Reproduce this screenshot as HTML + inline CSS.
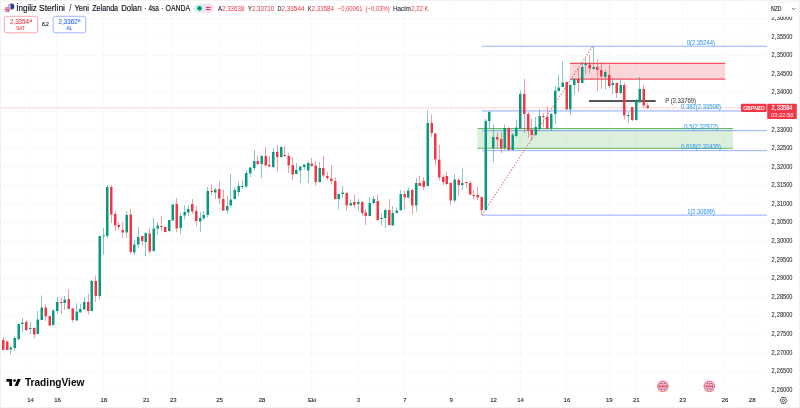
<!DOCTYPE html>
<html lang="tr"><head><meta charset="utf-8"><title>GBPNZD</title>
<style>
html,body{margin:0;padding:0;background:#fff;}
body{width:800px;height:408px;overflow:hidden;font-family:"Liberation Sans",sans-serif;}
svg{display:block;}
</style></head><body>
<svg width="800" height="408" viewBox="0 0 800 408" font-family="'Liberation Sans', sans-serif">
<rect x="0" y="0" width="800" height="408" fill="#fff"/>
<g stroke="#f9f9fa" stroke-width="1">
<line x1="29.70" y1="0" x2="29.70" y2="392.6"/>
<line x1="56.74" y1="0" x2="56.74" y2="392.6"/>
<line x1="103.09" y1="0" x2="103.09" y2="392.6"/>
<line x1="145.58" y1="0" x2="145.58" y2="392.6"/>
<line x1="172.62" y1="0" x2="172.62" y2="392.6"/>
<line x1="218.98" y1="0" x2="218.98" y2="392.6"/>
<line x1="261.47" y1="0" x2="261.47" y2="392.6"/>
<line x1="311.68" y1="0" x2="311.68" y2="392.6"/>
<line x1="358.04" y1="0" x2="358.04" y2="392.6"/>
<line x1="404.39" y1="0" x2="404.39" y2="392.6"/>
<line x1="450.74" y1="0" x2="450.74" y2="392.6"/>
<line x1="493.24" y1="0" x2="493.24" y2="392.6"/>
<line x1="520.28" y1="0" x2="520.28" y2="392.6"/>
<line x1="566.63" y1="0" x2="566.63" y2="392.6"/>
<line x1="609.12" y1="0" x2="609.12" y2="392.6"/>
<line x1="636.16" y1="0" x2="636.16" y2="392.6"/>
<line x1="682.51" y1="0" x2="682.51" y2="392.6"/>
<line x1="725.00" y1="0" x2="725.00" y2="392.6"/>
<line x1="752.04" y1="0" x2="752.04" y2="392.6"/>
<line x1="0" y1="18.42" x2="767" y2="18.42"/>
<line x1="0" y1="37.00" x2="767" y2="37.00"/>
<line x1="0" y1="55.58" x2="767" y2="55.58"/>
<line x1="0" y1="74.15" x2="767" y2="74.15"/>
<line x1="0" y1="92.73" x2="767" y2="92.73"/>
<line x1="0" y1="111.31" x2="767" y2="111.31"/>
<line x1="0" y1="129.88" x2="767" y2="129.88"/>
<line x1="0" y1="148.46" x2="767" y2="148.46"/>
<line x1="0" y1="167.04" x2="767" y2="167.04"/>
<line x1="0" y1="185.62" x2="767" y2="185.62"/>
<line x1="0" y1="204.19" x2="767" y2="204.19"/>
<line x1="0" y1="222.77" x2="767" y2="222.77"/>
<line x1="0" y1="241.35" x2="767" y2="241.35"/>
<line x1="0" y1="259.92" x2="767" y2="259.92"/>
<line x1="0" y1="278.50" x2="767" y2="278.50"/>
<line x1="0" y1="297.08" x2="767" y2="297.08"/>
<line x1="0" y1="315.66" x2="767" y2="315.66"/>
<line x1="0" y1="334.23" x2="767" y2="334.23"/>
<line x1="0" y1="352.81" x2="767" y2="352.81"/>
<line x1="0" y1="371.39" x2="767" y2="371.39"/>
<line x1="0" y1="389.96" x2="767" y2="389.96"/>
</g>
<line x1="0" y1="107.95" x2="741" y2="107.95" stroke="#f23645" stroke-opacity="0.1" stroke-width="1.3"/>
<line x1="-1" y1="107.95" x2="741" y2="107.95" stroke="#f23645" stroke-opacity="0.12" stroke-width="1.3" stroke-dasharray="2 1"/>
<rect x="570" y="63.2" width="154.8" height="15.8" fill="#f23645" fill-opacity="0.2"/>
<path d="M570 63.4h155.3M570 79.1h155.3" stroke="#f23645" stroke-opacity="0.85" stroke-width="1.1" fill="none"/>
<rect x="477.5" y="128.5" width="255.3" height="19.8" fill="#4caf50" fill-opacity="0.2"/>
<path d="M477.5 128.5h255.3M477.5 148.3h255.3" stroke="#4caf50" stroke-opacity="0.85" stroke-width="1" fill="none"/>
<g stroke="#2962ff" stroke-opacity="0.5" stroke-width="1">
<line x1="482" y1="46.28" x2="767" y2="46.28"/>
<line x1="482" y1="130.70" x2="767" y2="130.70"/>
<line x1="482" y1="150.65" x2="767" y2="150.65"/>
<line x1="482" y1="215.15" x2="767" y2="215.15"/>
<line x1="482" y1="110.88" x2="767" y2="110.88" stroke-opacity="0.3" stroke-width="1.8"/>
</g>
<line x1="482" y1="214.9" x2="592.6" y2="46.3" stroke="#f23645" stroke-opacity="0.85" stroke-width="1.1" stroke-dasharray="1.1 1.84"/>
<line x1="589" y1="101" x2="655.7" y2="101" stroke="#1c1c1c" stroke-width="1.4"/>
<path d="M10.5 346.0h.5V347.5h-.5zM10.5 349.5h.5V354.5h-.5zM14.5 336.0h.5V338.0h-.5zM14.5 348.0h.5V350.5h-.5zM18.5 323.5h.5V324.0h-.5zM18.5 339.0h.5V340.5h-.5zM22.0 318.0h.5V322.5h-.5zM22.0 324.0h.5V332.0h-.5zM30.0 322.0h.5V328.0h-.5zM30.0 329.0h.5V334.0h-.5zM37.5 311.0h.5V319.5h-.5zM41.5 295.5h.5V307.5h-.5zM53.0 309.0h.5V310.5h-.5zM53.0 325.0h.5V325.5h-.5zM57.0 297.0h.5V302.0h-.5zM57.0 311.0h.5V313.5h-.5zM64.5 296.0h.5V299.5h-.5zM64.5 303.0h.5V310.0h-.5zM76.5 303.0h.5V311.5h-.5zM76.5 320.5h.5V321.0h-.5zM80.0 304.0h.5V309.0h-.5zM84.0 297.0h.5V302.0h-.5zM91.5 280.0h.5V281.0h-.5zM91.5 311.0h.5V311.5h-.5zM99.5 296.0h.5V299.5h-.5zM103.5 228.0h.5V235.5h-.5zM103.5 236.5h.5V254.5h-.5zM107.0 185.0h.5V187.0h-.5zM107.0 236.0h.5V238.0h-.5zM126.5 211.0h.5V215.0h-.5zM126.5 232.5h.5V238.0h-.5zM134.0 239.5h.5V244.5h-.5zM134.0 252.5h.5V255.0h-.5zM138.0 227.0h.5V237.0h-.5zM138.0 244.5h.5V247.5h-.5zM145.5 232.5h.5V233.0h-.5zM145.5 242.0h.5V256.0h-.5zM153.5 217.5h.5V228.5h-.5zM153.5 251.0h.5V251.5h-.5zM157.5 222.0h.5V225.5h-.5zM157.5 228.5h.5V235.0h-.5zM169.0 231.0h.5V231.5h-.5zM172.5 204.0h.5V204.5h-.5zM172.5 220.5h.5V221.0h-.5zM180.5 212.5h.5V216.0h-.5zM180.5 228.0h.5V234.0h-.5zM184.5 205.0h.5V212.0h-.5zM184.5 215.5h.5V219.5h-.5zM188.0 205.0h.5V209.0h-.5zM188.0 212.5h.5V216.0h-.5zM200.0 212.0h.5V218.0h-.5zM200.0 221.5h.5V232.0h-.5zM203.5 211.0h.5V215.0h-.5zM203.5 218.5h.5V219.5h-.5zM207.5 187.0h.5V191.0h-.5zM207.5 215.0h.5V217.5h-.5zM215.0 188.0h.5V189.5h-.5zM215.0 192.5h.5V199.0h-.5zM227.0 196.0h.5V206.0h-.5zM227.0 210.5h.5V213.5h-.5zM230.5 174.0h.5V199.5h-.5zM230.5 205.5h.5V207.5h-.5zM234.5 187.5h.5V190.0h-.5zM234.5 199.0h.5V199.5h-.5zM238.5 181.5h.5V186.0h-.5zM238.5 192.0h.5V196.0h-.5zM242.0 180.5h.5V186.0h-.5zM242.0 187.0h.5V189.0h-.5zM246.0 170.0h.5V173.0h-.5zM246.0 186.5h.5V188.0h-.5zM250.0 167.0h.5V167.5h-.5zM250.0 173.5h.5V177.0h-.5zM254.0 150.0h.5V161.0h-.5zM254.0 168.0h.5V170.5h-.5zM261.5 155.0h.5V156.0h-.5zM261.5 164.0h.5V178.0h-.5zM273.0 148.0h.5V152.0h-.5zM273.0 167.0h.5V168.0h-.5zM281.0 146.5h.5V147.0h-.5zM281.0 157.0h.5V158.0h-.5zM296.0 163.0h.5V170.0h-.5zM296.0 174.0h.5V174.5h-.5zM300.0 166.0h.5V166.5h-.5zM300.0 170.5h.5V183.0h-.5zM304.0 164.0h.5V164.5h-.5zM304.0 167.0h.5V169.5h-.5zM308.0 161.0h.5V163.0h-.5zM308.0 170.5h.5V183.0h-.5zM319.5 162.0h.5V168.0h-.5zM319.5 182.0h.5V182.5h-.5zM338.5 193.5h.5V194.0h-.5zM338.5 199.0h.5V209.5h-.5zM342.5 186.0h.5V192.5h-.5zM342.5 194.0h.5V198.0h-.5zM350.5 199.5h.5V203.0h-.5zM350.5 205.5h.5V206.0h-.5zM358.0 199.0h.5V202.0h-.5zM358.0 204.0h.5V210.5h-.5zM369.5 197.0h.5V203.0h-.5zM369.5 216.0h.5V216.5h-.5zM373.5 196.0h.5V199.0h-.5zM373.5 203.0h.5V204.5h-.5zM381.0 213.0h.5V218.0h-.5zM381.0 219.0h.5V225.5h-.5zM385.0 209.0h.5V210.0h-.5zM385.0 218.0h.5V228.0h-.5zM392.5 206.0h.5V213.0h-.5zM392.5 225.5h.5V226.0h-.5zM396.5 207.5h.5V210.5h-.5zM400.5 190.0h.5V194.0h-.5zM400.5 210.0h.5V211.0h-.5zM408.0 187.5h.5V190.5h-.5zM408.0 197.5h.5V198.5h-.5zM416.0 178.0h.5V183.0h-.5zM416.0 205.5h.5V211.5h-.5zM427.5 110.0h.5V123.0h-.5zM427.5 186.0h.5V186.5h-.5zM454.5 174.0h.5V179.5h-.5zM454.5 200.5h.5V202.5h-.5zM462.0 169.0h.5V183.0h-.5zM462.0 185.0h.5V190.0h-.5zM485.5 119.0h.5V121.0h-.5zM485.5 210.0h.5V211.0h-.5zM489.0 111.0h.5V112.0h-.5zM489.0 121.0h.5V128.0h-.5zM493.0 124.5h.5V137.0h-.5zM493.0 148.0h.5V162.0h-.5zM504.5 124.5h.5V128.0h-.5zM504.5 148.0h.5V150.0h-.5zM512.5 133.0h.5V134.5h-.5zM516.0 120.0h.5V127.5h-.5zM516.0 136.0h.5V137.5h-.5zM520.0 90.5h.5V94.0h-.5zM520.0 128.5h.5V129.0h-.5zM535.5 117.0h.5V127.0h-.5zM535.5 135.0h.5V135.5h-.5zM539.5 109.5h.5V116.0h-.5zM539.5 129.0h.5V131.0h-.5zM551.0 113.0h.5V114.0h-.5zM551.0 128.5h.5V131.0h-.5zM555.0 86.0h.5V90.5h-.5zM555.0 114.0h.5V124.0h-.5zM558.5 75.0h.5V87.5h-.5zM558.5 91.0h.5V91.5h-.5zM562.5 61.5h.5V82.5h-.5zM570.0 84.5h.5V85.0h-.5zM570.0 109.5h.5V115.0h-.5zM574.0 78.5h.5V79.0h-.5zM574.0 85.0h.5V94.5h-.5zM582.0 62.5h.5V67.0h-.5zM585.5 58.0h.5V63.5h-.5zM585.5 65.0h.5V74.5h-.5zM593.5 46.0h.5V67.0h-.5zM593.5 69.0h.5V69.5h-.5zM605.0 69.5h.5V72.0h-.5zM605.0 77.0h.5V89.5h-.5zM612.5 79.0h.5V83.0h-.5zM612.5 85.0h.5V94.0h-.5zM620.5 79.0h.5V85.0h-.5zM620.5 93.0h.5V94.5h-.5zM628.0 112.0h.5V115.0h-.5zM628.0 116.0h.5V122.5h-.5zM636.0 99.0h.5V101.0h-.5zM636.0 120.0h.5V120.5h-.5zM639.5 77.0h.5V89.0h-.5zM639.5 102.5h.5V103.0h-.5z" fill="#089981"/>
<path d="M9.5 347.5h2.5V349.5h-2.5zM13.5 338.0h2.5V348.0h-2.5zM17.5 324.0h2.5V339.0h-2.5zM21.0 322.5h2.5V324.0h-2.5zM29.0 328.0h2.5V329.0h-2.5zM36.5 319.5h2.5V334.0h-2.5zM40.5 307.5h2.5V320.0h-2.5zM52.0 310.5h2.5V325.0h-2.5zM56.0 302.0h2.5V311.0h-2.5zM63.5 299.5h2.5V303.0h-2.5zM75.5 311.5h2.5V320.5h-2.5zM79.0 309.0h2.5V312.5h-2.5zM83.0 302.0h2.5V309.5h-2.5zM90.5 281.0h2.5V311.0h-2.5zM98.5 236.0h2.5V296.0h-2.5zM102.5 235.5h2.5V236.5h-2.5zM106.0 187.0h2.5V236.0h-2.5zM125.5 215.0h2.5V232.5h-2.5zM133.0 244.5h2.5V252.5h-2.5zM137.0 237.0h2.5V244.5h-2.5zM144.5 233.0h2.5V242.0h-2.5zM152.5 228.5h2.5V251.0h-2.5zM156.5 225.5h2.5V228.5h-2.5zM168.0 220.0h2.5V231.0h-2.5zM171.5 204.5h2.5V220.5h-2.5zM179.5 216.0h2.5V228.0h-2.5zM183.5 212.0h2.5V215.5h-2.5zM187.0 209.0h2.5V212.5h-2.5zM199.0 218.0h2.5V221.5h-2.5zM202.5 215.0h2.5V218.5h-2.5zM206.5 191.0h2.5V215.0h-2.5zM214.0 189.5h2.5V192.5h-2.5zM226.0 206.0h2.5V210.5h-2.5zM229.5 199.5h2.5V205.5h-2.5zM233.5 190.0h2.5V199.0h-2.5zM237.5 186.0h2.5V192.0h-2.5zM241.0 186.0h2.5V187.0h-2.5zM245.0 173.0h2.5V186.5h-2.5zM249.0 167.5h2.5V173.5h-2.5zM253.0 161.0h2.5V168.0h-2.5zM260.5 156.0h2.5V164.0h-2.5zM272.0 152.0h2.5V167.0h-2.5zM280.0 147.0h2.5V157.0h-2.5zM295.0 170.0h2.5V174.0h-2.5zM299.0 166.5h2.5V170.5h-2.5zM303.0 164.5h2.5V167.0h-2.5zM307.0 163.0h2.5V170.5h-2.5zM318.5 168.0h2.5V182.0h-2.5zM337.5 194.0h2.5V199.0h-2.5zM341.5 192.5h2.5V194.0h-2.5zM349.5 203.0h2.5V205.5h-2.5zM357.0 202.0h2.5V204.0h-2.5zM368.5 203.0h2.5V216.0h-2.5zM372.5 199.0h2.5V203.0h-2.5zM380.0 218.0h2.5V219.0h-2.5zM384.0 210.0h2.5V218.0h-2.5zM391.5 213.0h2.5V225.5h-2.5zM395.5 210.5h2.5V213.0h-2.5zM399.5 194.0h2.5V210.0h-2.5zM407.0 190.5h2.5V197.5h-2.5zM415.0 183.0h2.5V205.5h-2.5zM426.5 123.0h2.5V186.0h-2.5zM453.5 179.5h2.5V200.5h-2.5zM461.0 183.0h2.5V185.0h-2.5zM484.5 121.0h2.5V210.0h-2.5zM488.0 112.0h2.5V121.0h-2.5zM492.0 137.0h2.5V148.0h-2.5zM503.5 128.0h2.5V148.0h-2.5zM511.5 134.5h2.5V150.0h-2.5zM515.0 127.5h2.5V136.0h-2.5zM519.0 94.0h2.5V128.5h-2.5zM534.5 127.0h2.5V135.0h-2.5zM538.5 116.0h2.5V129.0h-2.5zM550.0 114.0h2.5V128.5h-2.5zM554.0 90.5h2.5V114.0h-2.5zM557.5 87.5h2.5V91.0h-2.5zM561.5 82.5h2.5V87.0h-2.5zM569.0 85.0h2.5V109.5h-2.5zM573.0 79.0h2.5V85.0h-2.5zM581.0 67.0h2.5V83.0h-2.5zM584.5 63.5h2.5V65.0h-2.5zM592.5 67.0h2.5V69.0h-2.5zM604.0 72.0h2.5V77.0h-2.5zM611.5 83.0h2.5V85.0h-2.5zM619.5 85.0h2.5V93.0h-2.5zM627.0 115.0h2.5V116.0h-2.5zM635.0 101.0h2.5V120.0h-2.5zM638.5 89.0h2.5V102.5h-2.5z" fill="#089981"/>
<path d="M3.0 337.0h.5V340.0h-.5zM7.0 341.0h.5V341.5h-.5zM26.0 320.0h.5V322.0h-.5zM26.0 330.0h.5V331.0h-.5zM34.0 327.0h.5V328.0h-.5zM34.0 334.5h.5V338.0h-.5zM45.5 304.5h.5V307.5h-.5zM45.5 316.5h.5V321.0h-.5zM49.5 325.5h.5V326.0h-.5zM61.0 297.5h.5V302.0h-.5zM61.0 303.0h.5V314.0h-.5zM68.5 289.5h.5V299.0h-.5zM72.5 308.0h.5V308.5h-.5zM72.5 320.0h.5V322.5h-.5zM88.0 294.0h.5V302.0h-.5zM88.0 311.0h.5V314.5h-.5zM95.5 275.5h.5V281.0h-.5zM95.5 296.0h.5V302.0h-.5zM111.0 185.0h.5V187.0h-.5zM111.0 214.5h.5V223.0h-.5zM115.0 211.0h.5V214.0h-.5zM115.0 225.5h.5V231.0h-.5zM118.5 222.0h.5V225.0h-.5zM118.5 227.0h.5V230.0h-.5zM122.5 222.0h.5V230.0h-.5zM122.5 232.5h.5V238.0h-.5zM130.5 209.0h.5V214.5h-.5zM130.5 252.0h.5V254.0h-.5zM142.0 241.0h.5V245.5h-.5zM149.5 228.5h.5V233.5h-.5zM149.5 251.5h.5V254.0h-.5zM161.0 216.0h.5V226.0h-.5zM161.0 227.0h.5V231.0h-.5zM165.0 226.5h.5V227.0h-.5zM165.0 232.0h.5V232.5h-.5zM176.5 198.0h.5V204.0h-.5zM176.5 228.5h.5V232.0h-.5zM192.0 199.0h.5V204.0h-.5zM192.0 211.5h.5V214.0h-.5zM196.0 206.0h.5V211.0h-.5zM196.0 221.0h.5V226.0h-.5zM211.5 184.5h.5V191.0h-.5zM211.5 192.0h.5V195.5h-.5zM219.0 181.5h.5V189.0h-.5zM219.0 198.5h.5V204.0h-.5zM223.0 189.5h.5V199.0h-.5zM223.0 210.5h.5V211.0h-.5zM257.5 155.5h.5V161.0h-.5zM257.5 164.0h.5V165.0h-.5zM265.5 147.0h.5V156.0h-.5zM265.5 165.5h.5V166.0h-.5zM269.0 155.5h.5V165.0h-.5zM269.0 166.5h.5V167.0h-.5zM277.0 145.0h.5V152.0h-.5zM277.0 157.0h.5V171.5h-.5zM284.5 146.0h.5V155.0h-.5zM284.5 156.0h.5V157.0h-.5zM288.5 153.0h.5V156.0h-.5zM288.5 165.5h.5V172.5h-.5zM292.5 157.0h.5V165.0h-.5zM292.5 174.5h.5V180.0h-.5zM311.5 158.0h.5V163.5h-.5zM311.5 166.0h.5V166.5h-.5zM315.5 161.0h.5V165.5h-.5zM315.5 182.0h.5V185.5h-.5zM323.0 156.0h.5V168.0h-.5zM323.0 175.5h.5V177.5h-.5zM327.0 172.0h.5V176.0h-.5zM327.0 178.0h.5V180.0h-.5zM331.0 165.0h.5V178.5h-.5zM331.0 181.0h.5V184.5h-.5zM335.0 177.5h.5V181.0h-.5zM335.0 199.0h.5V199.5h-.5zM346.5 192.5h.5V193.0h-.5zM346.5 205.5h.5V210.5h-.5zM354.0 194.5h.5V202.0h-.5zM354.0 205.0h.5V207.5h-.5zM362.0 201.0h.5V202.0h-.5zM362.0 213.0h.5V215.5h-.5zM365.5 209.0h.5V212.5h-.5zM365.5 216.0h.5V225.0h-.5zM377.5 194.5h.5V201.0h-.5zM377.5 220.0h.5V221.0h-.5zM389.0 199.0h.5V210.0h-.5zM389.0 225.0h.5V225.5h-.5zM404.5 191.0h.5V194.0h-.5zM404.5 197.5h.5V209.0h-.5zM412.0 189.0h.5V190.0h-.5zM412.0 205.5h.5V214.5h-.5zM419.5 176.0h.5V183.0h-.5zM423.5 177.0h.5V181.0h-.5zM423.5 187.0h.5V190.0h-.5zM431.5 114.5h.5V123.0h-.5zM431.5 133.0h.5V137.0h-.5zM435.0 133.0h.5V133.5h-.5zM435.0 159.5h.5V165.5h-.5zM439.0 145.0h.5V159.5h-.5zM439.0 177.5h.5V180.5h-.5zM443.0 174.5h.5V177.0h-.5zM443.0 182.0h.5V185.0h-.5zM446.5 171.5h.5V176.0h-.5zM446.5 184.0h.5V185.0h-.5zM450.5 182.0h.5V183.0h-.5zM450.5 200.5h.5V205.0h-.5zM458.5 178.0h.5V180.0h-.5zM458.5 185.0h.5V195.5h-.5zM466.0 183.0h.5V188.0h-.5zM470.0 181.0h.5V183.0h-.5zM470.0 194.5h.5V195.0h-.5zM473.5 190.0h.5V195.0h-.5zM473.5 196.0h.5V199.0h-.5zM477.5 187.0h.5V195.0h-.5zM477.5 197.5h.5V200.5h-.5zM481.5 196.5h.5V197.0h-.5zM481.5 210.0h.5V214.5h-.5zM497.0 132.5h.5V137.0h-.5zM497.0 139.5h.5V149.0h-.5zM501.0 132.5h.5V139.0h-.5zM501.0 148.0h.5V153.0h-.5zM508.5 127.0h.5V128.0h-.5zM524.0 79.0h.5V94.0h-.5zM524.0 114.0h.5V133.0h-.5zM528.0 112.0h.5V114.0h-.5zM528.0 130.5h.5V137.5h-.5zM531.5 119.0h.5V129.5h-.5zM531.5 135.0h.5V140.5h-.5zM543.0 113.0h.5V116.0h-.5zM543.0 117.0h.5V127.5h-.5zM547.0 106.5h.5V117.0h-.5zM578.0 68.0h.5V79.0h-.5zM578.0 83.0h.5V92.0h-.5zM589.5 55.0h.5V64.5h-.5zM589.5 68.5h.5V73.0h-.5zM597.0 59.0h.5V67.0h-.5zM597.0 70.0h.5V91.0h-.5zM601.0 62.5h.5V70.0h-.5zM601.0 76.5h.5V89.0h-.5zM609.0 65.0h.5V75.0h-.5zM609.0 86.0h.5V88.0h-.5zM616.5 82.5h.5V83.0h-.5zM616.5 93.0h.5V98.0h-.5zM624.0 82.5h.5V85.0h-.5zM624.0 115.5h.5V119.5h-.5zM632.0 120.0h.5V121.0h-.5zM643.5 85.0h.5V89.0h-.5zM643.5 105.5h.5V108.0h-.5zM647.5 103.0h.5V105.5h-.5zM647.5 108.0h.5V109.0h-.5z" fill="#f23645"/>
<path d="M2.0 340.0h2.5V350.0h-2.5zM6.0 341.5h2.5V350.0h-2.5zM25.0 322.0h2.5V330.0h-2.5zM33.0 328.0h2.5V334.5h-2.5zM44.5 307.5h2.5V316.5h-2.5zM48.5 316.0h2.5V325.5h-2.5zM60.0 302.0h2.5V303.0h-2.5zM67.5 299.0h2.5V309.0h-2.5zM71.5 308.5h2.5V320.0h-2.5zM87.0 302.0h2.5V311.0h-2.5zM94.5 281.0h2.5V296.0h-2.5zM110.0 187.0h2.5V214.5h-2.5zM114.0 214.0h2.5V225.5h-2.5zM117.5 225.0h2.5V227.0h-2.5zM121.5 230.0h2.5V232.5h-2.5zM129.5 214.5h2.5V252.0h-2.5zM141.0 236.0h2.5V241.0h-2.5zM148.5 233.5h2.5V251.5h-2.5zM160.0 226.0h2.5V227.0h-2.5zM164.0 227.0h2.5V232.0h-2.5zM175.5 204.0h2.5V228.5h-2.5zM191.0 204.0h2.5V211.5h-2.5zM195.0 211.0h2.5V221.0h-2.5zM210.5 191.0h2.5V192.0h-2.5zM218.0 189.0h2.5V198.5h-2.5zM222.0 199.0h2.5V210.5h-2.5zM256.5 161.0h2.5V164.0h-2.5zM264.5 156.0h2.5V165.5h-2.5zM268.0 165.0h2.5V166.5h-2.5zM276.0 152.0h2.5V157.0h-2.5zM283.5 155.0h2.5V156.0h-2.5zM287.5 156.0h2.5V165.5h-2.5zM291.5 165.0h2.5V174.5h-2.5zM310.5 163.5h2.5V166.0h-2.5zM314.5 165.5h2.5V182.0h-2.5zM322.0 168.0h2.5V175.5h-2.5zM326.0 176.0h2.5V178.0h-2.5zM330.0 178.5h2.5V181.0h-2.5zM334.0 181.0h2.5V199.0h-2.5zM345.5 193.0h2.5V205.5h-2.5zM353.0 202.0h2.5V205.0h-2.5zM361.0 202.0h2.5V213.0h-2.5zM364.5 212.5h2.5V216.0h-2.5zM376.5 201.0h2.5V220.0h-2.5zM388.0 210.0h2.5V225.0h-2.5zM403.5 194.0h2.5V197.5h-2.5zM411.0 190.0h2.5V205.5h-2.5zM418.5 183.0h2.5V186.0h-2.5zM422.5 181.0h2.5V187.0h-2.5zM430.5 123.0h2.5V133.0h-2.5zM434.0 133.5h2.5V159.5h-2.5zM438.0 159.5h2.5V177.5h-2.5zM442.0 177.0h2.5V182.0h-2.5zM445.5 176.0h2.5V184.0h-2.5zM449.5 183.0h2.5V200.5h-2.5zM457.5 180.0h2.5V185.0h-2.5zM465.0 182.0h2.5V183.0h-2.5zM469.0 183.0h2.5V194.5h-2.5zM472.5 195.0h2.5V196.0h-2.5zM476.5 195.0h2.5V197.5h-2.5zM480.5 197.0h2.5V210.0h-2.5zM496.0 137.0h2.5V139.5h-2.5zM500.0 139.0h2.5V148.0h-2.5zM507.5 128.0h2.5V150.0h-2.5zM523.0 94.0h2.5V114.0h-2.5zM527.0 114.0h2.5V130.5h-2.5zM530.5 129.5h2.5V135.0h-2.5zM542.0 116.0h2.5V117.0h-2.5zM546.0 117.0h2.5V129.0h-2.5zM565.5 82.0h2.5V109.5h-2.5zM577.0 79.0h2.5V83.0h-2.5zM588.5 64.5h2.5V68.5h-2.5zM596.0 67.0h2.5V70.0h-2.5zM600.0 70.0h2.5V76.5h-2.5zM608.0 75.0h2.5V86.0h-2.5zM615.5 83.0h2.5V93.0h-2.5zM623.0 85.0h2.5V115.5h-2.5zM631.0 107.0h2.5V120.0h-2.5zM642.5 89.0h2.5V105.5h-2.5zM646.5 105.5h2.5V108.0h-2.5z" fill="#f23645"/>
<text x="665.20" y="102.70" font-size="6.60" fill="#3a3a3a" stroke="#3a3a3a" stroke-width="0.05" textLength="30.80" lengthAdjust="spacingAndGlyphs">P (2.33769)</text>
<text x="686.80" y="44.70" font-size="6.60" fill="#3a9cf2" stroke="#3a9cf2" stroke-width="0.07" textLength="28.20" lengthAdjust="spacingAndGlyphs">0(2.35244)</text>
<text x="681.00" y="109.00" font-size="6.60" fill="#3a9cf2" stroke="#3a9cf2" stroke-width="0.07" textLength="40.00" lengthAdjust="spacingAndGlyphs">0.382(2.33508)</text>
<text x="684.30" y="128.80" font-size="6.60" fill="#3a9cf2" stroke="#3a9cf2" stroke-width="0.07" textLength="33.80" lengthAdjust="spacingAndGlyphs">0.5(2.32972)</text>
<text x="681.00" y="148.80" font-size="6.60" fill="#3a9cf2" stroke="#3a9cf2" stroke-width="0.07" textLength="40.00" lengthAdjust="spacingAndGlyphs">0.618(2.32435)</text>
<text x="687.20" y="213.70" font-size="6.60" fill="#3a9cf2" stroke="#3a9cf2" stroke-width="0.07" textLength="27.80" lengthAdjust="spacingAndGlyphs">1(2.30699)</text>
<text transform="translate(771.40,20.07) scale(0.880,1)" x="0.00 3.75 6.08 9.65 13.23 16.80 20.38" y="0" font-size="6.40" fill="#1e2029" stroke="#1e2029" stroke-width="0.06">2,36000</text>
<text transform="translate(771.40,38.65) scale(0.880,1)" x="0.00 3.75 6.08 9.65 13.23 16.80 20.38" y="0" font-size="6.40" fill="#1e2029" stroke="#1e2029" stroke-width="0.06">2,35500</text>
<text transform="translate(771.40,57.23) scale(0.880,1)" x="0.00 3.75 6.08 9.65 13.23 16.80 20.38" y="0" font-size="6.40" fill="#1e2029" stroke="#1e2029" stroke-width="0.06">2,35000</text>
<text transform="translate(771.40,75.81) scale(0.880,1)" x="0.00 3.75 6.08 9.65 13.23 16.80 20.38" y="0" font-size="6.40" fill="#1e2029" stroke="#1e2029" stroke-width="0.06">2,34500</text>
<text transform="translate(771.40,94.39) scale(0.880,1)" x="0.00 3.75 6.08 9.65 13.23 16.80 20.38" y="0" font-size="6.40" fill="#1e2029" stroke="#1e2029" stroke-width="0.06">2,34000</text>
<text transform="translate(771.40,112.97) scale(0.880,1)" x="0.00 3.75 6.08 9.65 13.23 16.80 20.38" y="0" font-size="6.40" fill="#1e2029" stroke="#1e2029" stroke-width="0.06">2,33500</text>
<text transform="translate(771.40,131.55) scale(0.880,1)" x="0.00 3.75 6.08 9.65 13.23 16.80 20.38" y="0" font-size="6.40" fill="#1e2029" stroke="#1e2029" stroke-width="0.06">2,33000</text>
<text transform="translate(771.40,150.13) scale(0.880,1)" x="0.00 3.75 6.08 9.65 13.23 16.80 20.38" y="0" font-size="6.40" fill="#1e2029" stroke="#1e2029" stroke-width="0.06">2,32500</text>
<text transform="translate(771.40,168.71) scale(0.880,1)" x="0.00 3.75 6.08 9.65 13.23 16.80 20.38" y="0" font-size="6.40" fill="#1e2029" stroke="#1e2029" stroke-width="0.06">2,32000</text>
<text transform="translate(771.40,187.29) scale(0.880,1)" x="0.00 3.75 6.08 9.65 13.23 16.80 20.38" y="0" font-size="6.40" fill="#1e2029" stroke="#1e2029" stroke-width="0.06">2,31500</text>
<text transform="translate(771.40,205.87) scale(0.880,1)" x="0.00 3.75 6.08 9.65 13.23 16.80 20.38" y="0" font-size="6.40" fill="#1e2029" stroke="#1e2029" stroke-width="0.06">2,31000</text>
<text transform="translate(771.40,224.45) scale(0.880,1)" x="0.00 3.75 6.08 9.65 13.23 16.80 20.38" y="0" font-size="6.40" fill="#1e2029" stroke="#1e2029" stroke-width="0.06">2,30500</text>
<text transform="translate(771.40,243.03) scale(0.880,1)" x="0.00 3.75 6.08 9.65 13.23 16.80 20.38" y="0" font-size="6.40" fill="#1e2029" stroke="#1e2029" stroke-width="0.06">2,30000</text>
<text transform="translate(771.40,261.61) scale(0.880,1)" x="0.00 3.75 6.08 9.65 13.23 16.80 20.38" y="0" font-size="6.40" fill="#1e2029" stroke="#1e2029" stroke-width="0.06">2,29500</text>
<text transform="translate(771.40,280.19) scale(0.880,1)" x="0.00 3.75 6.08 9.65 13.23 16.80 20.38" y="0" font-size="6.40" fill="#1e2029" stroke="#1e2029" stroke-width="0.06">2,29000</text>
<text transform="translate(771.40,298.77) scale(0.880,1)" x="0.00 3.75 6.08 9.65 13.23 16.80 20.38" y="0" font-size="6.40" fill="#1e2029" stroke="#1e2029" stroke-width="0.06">2,28500</text>
<text transform="translate(771.40,317.35) scale(0.880,1)" x="0.00 3.75 6.08 9.65 13.23 16.80 20.38" y="0" font-size="6.40" fill="#1e2029" stroke="#1e2029" stroke-width="0.06">2,28000</text>
<text transform="translate(771.40,335.93) scale(0.880,1)" x="0.00 3.75 6.08 9.65 13.23 16.80 20.38" y="0" font-size="6.40" fill="#1e2029" stroke="#1e2029" stroke-width="0.06">2,27500</text>
<text transform="translate(771.40,354.51) scale(0.880,1)" x="0.00 3.75 6.08 9.65 13.23 16.80 20.38" y="0" font-size="6.40" fill="#1e2029" stroke="#1e2029" stroke-width="0.06">2,27000</text>
<text transform="translate(771.40,373.09) scale(0.880,1)" x="0.00 3.75 6.08 9.65 13.23 16.80 20.38" y="0" font-size="6.40" fill="#1e2029" stroke="#1e2029" stroke-width="0.06">2,26500</text>
<text transform="translate(771.40,391.67) scale(0.880,1)" x="0.00 3.75 6.08 9.65 13.23 16.80 20.38" y="0" font-size="6.40" fill="#1e2029" stroke="#1e2029" stroke-width="0.06">2,26000</text>
<rect x="767.5" y="0.5" width="31.5" height="16.2" fill="#fff"/>
<rect x="768.5" y="2.2" width="29.3" height="13.1" rx="2" fill="#fff" stroke="#eef0f4" stroke-width="0.6"/>
<text x="771.00" y="10.70" font-size="6.30" fill="#131722" stroke="#131722" stroke-width="0.12" textLength="10.60" lengthAdjust="spacingAndGlyphs">NZD</text>
<path d="M792.2 8.2l1.5 1.5l1.5-1.5" fill="none" stroke="#131722" stroke-width="0.7"/>
<rect x="741" y="103.7" width="25.6" height="8.2" rx="0.8" fill="#f23645"/>
<text x="743.20" y="110.30" font-size="6.20" fill="#fff" stroke="#fff" stroke-width="0.15" textLength="21.60" lengthAdjust="spacingAndGlyphs">GBPNZD</text>
<rect x="767.2" y="103.7" width="29.6" height="15.3" rx="0.8" fill="#f23645"/>
<text transform="translate(771.40,110.30) scale(0.880,1)" x="0.00 3.75 6.08 9.65 13.23 16.80 20.38" y="0" font-size="6.40" fill="#fff" stroke="#fff" stroke-width="0.15">2,33584</text>
<text x="771.00" y="116.60" font-size="6.00" fill="#fff" stroke="#fff" stroke-width="0.05" textLength="22.40" lengthAdjust="spacingAndGlyphs" opacity="0.85">03:22:58</text>
<text x="30.51" y="402.10" font-size="6.00" fill="#1e2029" stroke="#1e2029" stroke-width="0.10" text-anchor="middle">14</text>
<text x="57.53" y="402.10" font-size="6.00" fill="#1e2029" stroke="#1e2029" stroke-width="0.10" text-anchor="middle">16</text>
<text x="103.83" y="402.10" font-size="6.00" fill="#1e2029" stroke="#1e2029" stroke-width="0.10" text-anchor="middle">18</text>
<text x="146.28" y="402.10" font-size="6.00" fill="#1e2029" stroke="#1e2029" stroke-width="0.10" text-anchor="middle">21</text>
<text x="173.30" y="402.10" font-size="6.00" fill="#1e2029" stroke="#1e2029" stroke-width="0.10" text-anchor="middle">23</text>
<text x="219.60" y="402.10" font-size="6.00" fill="#1e2029" stroke="#1e2029" stroke-width="0.10" text-anchor="middle">25</text>
<text x="262.05" y="402.10" font-size="6.00" fill="#1e2029" stroke="#1e2029" stroke-width="0.10" text-anchor="middle">28</text>
<text x="312.22" y="402.10" font-size="6.00" fill="#1e2029" stroke="#1e2029" stroke-width="0.10" text-anchor="middle">Eki</text>
<text x="358.53" y="402.10" font-size="6.00" fill="#1e2029" stroke="#1e2029" stroke-width="0.10" text-anchor="middle">3</text>
<text x="404.84" y="402.10" font-size="6.00" fill="#1e2029" stroke="#1e2029" stroke-width="0.10" text-anchor="middle">7</text>
<text x="451.14" y="402.10" font-size="6.00" fill="#1e2029" stroke="#1e2029" stroke-width="0.10" text-anchor="middle">9</text>
<text x="493.59" y="402.10" font-size="6.00" fill="#1e2029" stroke="#1e2029" stroke-width="0.10" text-anchor="middle">12</text>
<text x="520.61" y="402.10" font-size="6.00" fill="#1e2029" stroke="#1e2029" stroke-width="0.10" text-anchor="middle">14</text>
<text x="566.91" y="402.10" font-size="6.00" fill="#1e2029" stroke="#1e2029" stroke-width="0.10" text-anchor="middle">16</text>
<text x="609.36" y="402.10" font-size="6.00" fill="#1e2029" stroke="#1e2029" stroke-width="0.10" text-anchor="middle">19</text>
<text x="636.38" y="402.10" font-size="6.00" fill="#1e2029" stroke="#1e2029" stroke-width="0.10" text-anchor="middle">21</text>
<text x="682.68" y="402.10" font-size="6.00" fill="#1e2029" stroke="#1e2029" stroke-width="0.10" text-anchor="middle">23</text>
<text x="725.13" y="402.10" font-size="6.00" fill="#1e2029" stroke="#1e2029" stroke-width="0.10" text-anchor="middle">26</text>
<text x="752.15" y="402.10" font-size="6.00" fill="#1e2029" stroke="#1e2029" stroke-width="0.10" text-anchor="middle">28</text>
<polygon points="786.90,400.40 785.20,403.34 781.80,403.34 780.10,400.40 781.80,397.46 785.20,397.46" fill="none" stroke="#2a2e39" stroke-width="0.8" stroke-linejoin="round"/>
<circle cx="783.5" cy="400.4" r="1.2" fill="none" stroke="#2a2e39" stroke-width="0.8"/>
<circle cx="662.9" cy="386.3" r="5.1" fill="#fbe3e6" stroke="#f77c87" stroke-width="1.5"/>
<clipPath id="c6629"><circle cx="662.90" cy="386.30" r="4.00"/></clipPath>
<g clip-path="url(#c6629)">
<rect x="658.90" y="382.30" width="8.00" height="8.00" fill="#f6cdd2"/>
<circle cx="664.55" cy="389.05" r="0.80" fill="#2a5bd2"/>
<circle cx="661.25" cy="389.05" r="0.80" fill="#2a5bd2"/>
<circle cx="664.55" cy="383.55" r="0.80" fill="#2a5bd2"/>
<circle cx="661.25" cy="383.55" r="0.80" fill="#2a5bd2"/>
<circle cx="666.20" cy="387.50" r="0.55" fill="#2a5bd2"/>
<circle cx="659.60" cy="387.50" r="0.55" fill="#2a5bd2"/>
<circle cx="666.20" cy="385.10" r="0.55" fill="#2a5bd2"/>
<circle cx="659.60" cy="385.10" r="0.55" fill="#2a5bd2"/>
<rect x="662.35" y="382.30" width="1.10" height="8.00" fill="#f3838d"/>
<rect x="658.90" y="385.60" width="8.00" height="1.40" fill="#f2525e"/>
</g>
<circle cx="709.3" cy="386.3" r="5.1" fill="#fbe3e6" stroke="#f77c87" stroke-width="1.5"/>
<clipPath id="c7093"><circle cx="709.30" cy="386.30" r="4.00"/></clipPath>
<g clip-path="url(#c7093)">
<rect x="705.30" y="382.30" width="8.00" height="8.00" fill="#f6cdd2"/>
<circle cx="710.95" cy="389.05" r="0.80" fill="#2a5bd2"/>
<circle cx="707.65" cy="389.05" r="0.80" fill="#2a5bd2"/>
<circle cx="710.95" cy="383.55" r="0.80" fill="#2a5bd2"/>
<circle cx="707.65" cy="383.55" r="0.80" fill="#2a5bd2"/>
<circle cx="712.60" cy="387.50" r="0.55" fill="#2a5bd2"/>
<circle cx="706.00" cy="387.50" r="0.55" fill="#2a5bd2"/>
<circle cx="712.60" cy="385.10" r="0.55" fill="#2a5bd2"/>
<circle cx="706.00" cy="385.10" r="0.55" fill="#2a5bd2"/>
<rect x="708.75" y="382.30" width="1.10" height="8.00" fill="#f3838d"/>
<rect x="705.30" y="385.60" width="8.00" height="1.40" fill="#f2525e"/>
</g>
<clipPath id="nzc"><circle cx="11.3" cy="6.6" r="3.0"/></clipPath>
<g clip-path="url(#nzc)"><rect x="8" y="3" width="7" height="7" fill="#1f3fa8"/><rect x="8" y="3" width="2.6" height="4.4" fill="#f2a6b0"/><path d="M8 5.2h2.6" stroke="#ee6f7c" stroke-width="0.8"/></g>
<circle cx="7.4" cy="9.6" r="3.35" fill="#fff"/>
<clipPath id="c74"><circle cx="7.40" cy="9.60" r="2.90"/></clipPath>
<g clip-path="url(#c74)">
<rect x="4.50" y="6.70" width="5.80" height="5.80" fill="#f5b9c0"/>
<circle cx="8.60" cy="11.59" r="0.58" fill="#2a5bd2"/>
<circle cx="6.20" cy="11.59" r="0.58" fill="#2a5bd2"/>
<circle cx="8.60" cy="7.61" r="0.58" fill="#2a5bd2"/>
<circle cx="6.20" cy="7.61" r="0.58" fill="#2a5bd2"/>
<circle cx="9.79" cy="10.47" r="0.40" fill="#2a5bd2"/>
<circle cx="5.01" cy="10.47" r="0.40" fill="#2a5bd2"/>
<circle cx="9.79" cy="8.73" r="0.40" fill="#2a5bd2"/>
<circle cx="5.01" cy="8.73" r="0.40" fill="#2a5bd2"/>
<rect x="7.00" y="6.70" width="0.80" height="5.80" fill="#f3838d"/>
<rect x="4.50" y="9.09" width="5.80" height="1.01" fill="#f2525e"/>
</g>
<text y="10.85" font-size="8.20"><tspan x="16.25" y="10.85" fill="#131722" stroke="#131722" stroke-width="0.18" textLength="20.65" lengthAdjust="spacingAndGlyphs">İngiliz</tspan> <tspan x="39.00" y="10.85" fill="#131722" stroke="#131722" stroke-width="0.18" textLength="26.00" lengthAdjust="spacingAndGlyphs">Sterlini</tspan> <tspan x="69.30" y="10.85" fill="#131722">/</tspan> <tspan x="74.40" y="10.85" fill="#131722" stroke="#131722" stroke-width="0.18" textLength="14.60" lengthAdjust="spacingAndGlyphs">Yeni</tspan> <tspan x="92.25" y="10.85" fill="#131722" stroke="#131722" stroke-width="0.18" textLength="25.85" lengthAdjust="spacingAndGlyphs">Zelanda</tspan> <tspan x="121.25" y="10.85" fill="#131722" stroke="#131722" stroke-width="0.18" textLength="20.65" lengthAdjust="spacingAndGlyphs">Doları</tspan> <tspan x="143.90" y="10.85" fill="#131722">·</tspan> <tspan x="148.50" y="10.85" fill="#131722" stroke="#131722" stroke-width="0.18" textLength="10.25" lengthAdjust="spacingAndGlyphs">4sa</tspan> <tspan x="161.30" y="10.85" fill="#131722">·</tspan> <tspan x="165.60" y="10.85" fill="#131722" stroke="#131722" stroke-width="0.18" textLength="24.40" lengthAdjust="spacingAndGlyphs">OANDA</tspan></text>
<path d="M203.8 3.8h-5.4a4.45 4.45 0 0 0 0 8.9h5.4z" fill="#089981" fill-opacity="0.15"/>
<path d="M203.8 3.8h5.7a4.45 4.45 0 0 1 0 8.9h-5.7z" fill="#e91e63" fill-opacity="0.15"/>
<circle cx="199.5" cy="8.3" r="2.4" fill="#089981"/>
<path d="M206 7.5h4.8M206 9.5h4.8" stroke="#e0246e" stroke-width="0.9"/>
<text y="10.90" font-size="6.50">
<tspan x="217.90" fill="#131722" stroke="#131722" stroke-width="0.05" textLength="4.00" lengthAdjust="spacingAndGlyphs">A</tspan><tspan x="222.00" fill="#f23645" textLength="22.40" lengthAdjust="spacingAndGlyphs">2,33638</tspan> <tspan x="248.10" fill="#131722" stroke="#131722" stroke-width="0.05" textLength="3.80" lengthAdjust="spacingAndGlyphs">Y</tspan><tspan x="251.90" fill="#f23645" textLength="22.20" lengthAdjust="spacingAndGlyphs">2,33710</tspan> <tspan x="277.50" fill="#131722" stroke="#131722" stroke-width="0.05" textLength="4.00" lengthAdjust="spacingAndGlyphs">D</tspan><tspan x="281.60" fill="#f23645" textLength="22.80" lengthAdjust="spacingAndGlyphs">2,33544</tspan> <tspan x="308.10" fill="#131722" stroke="#131722" stroke-width="0.05" textLength="3.60" lengthAdjust="spacingAndGlyphs">K</tspan><tspan x="311.60" fill="#f23645" textLength="22.40" lengthAdjust="spacingAndGlyphs">2,33584</tspan> <tspan x="337.80" fill="#f23645" textLength="24.60" lengthAdjust="spacingAndGlyphs">−0,00061</tspan> <tspan x="365.60" fill="#f23645" textLength="24.20" lengthAdjust="spacingAndGlyphs">(−0,03%)</tspan>
</text>
<text y="10.90" font-size="6.50">
<tspan x="392.90" fill="#131722" stroke="#131722" stroke-width="0.05" textLength="18.00" lengthAdjust="spacingAndGlyphs">Hacim</tspan> <tspan x="411.30" fill="#f23645" textLength="17.20" lengthAdjust="spacingAndGlyphs">2,22 K</tspan>
</text>
<rect x="4.3" y="16.3" width="33.4" height="16.5" rx="2.2" fill="#fff" stroke="#f23645" stroke-opacity="0.5" stroke-width="0.9"/>
<text y="23.70" font-size="6.60"><tspan x="9.90" y="23.70" fill="#f23645" stroke="#f23645" stroke-width="0.08" textLength="19.20" lengthAdjust="spacingAndGlyphs">2,3354</tspan><tspan x="29.40" font-size="4.20" y="21.60" fill="#f23645" stroke="#f23645" stroke-width="0.08" textLength="2.60" lengthAdjust="spacingAndGlyphs">4</tspan></text>
<text x="16.20" y="30.20" font-size="5.40" fill="#f23645" stroke="#f23645" stroke-width="0.08" textLength="8.60" lengthAdjust="spacingAndGlyphs">SAT</text>
<text x="41.90" y="26.40" font-size="4.80" fill="#131722" stroke="#131722" stroke-width="0.12" textLength="7.00" lengthAdjust="spacingAndGlyphs">8,2</text>
<rect x="53.2" y="16.3" width="32.6" height="16.5" rx="2.2" fill="#fff" stroke="#2962ff" stroke-opacity="0.5" stroke-width="0.9"/>
<text y="23.70" font-size="6.60"><tspan x="58.50" y="23.70" fill="#2962ff" stroke="#2962ff" stroke-width="0.08" textLength="19.20" lengthAdjust="spacingAndGlyphs">2,3362</tspan><tspan x="78.00" font-size="4.20" y="21.60" fill="#2962ff" stroke="#2962ff" stroke-width="0.08" textLength="2.60" lengthAdjust="spacingAndGlyphs">6</tspan></text>
<text x="66.40" y="30.20" font-size="5.40" fill="#2962ff" stroke="#2962ff" stroke-width="0.08" textLength="5.80" lengthAdjust="spacingAndGlyphs">AL</text>
<g transform="translate(6.4,377.4) scale(0.406,0.392)" fill="#0a0a0a">
<path d="M14 22H7V11H0V4h14v18z"/><circle cx="20" cy="8.2" r="3.4"/><path d="M28 22h-8l7.500-18h8L28 22z"/>
</g>
<text x="24.90" y="386.10" font-size="10.60" fill="#0a0a0a" textLength="59.60" lengthAdjust="spacingAndGlyphs" font-weight="bold">TradingView</text>
<rect x="0.25" y="0.25" width="799.5" height="407.5" fill="none" stroke="#e4e5e8" stroke-width="0.5"/>
</svg>
</body></html>
